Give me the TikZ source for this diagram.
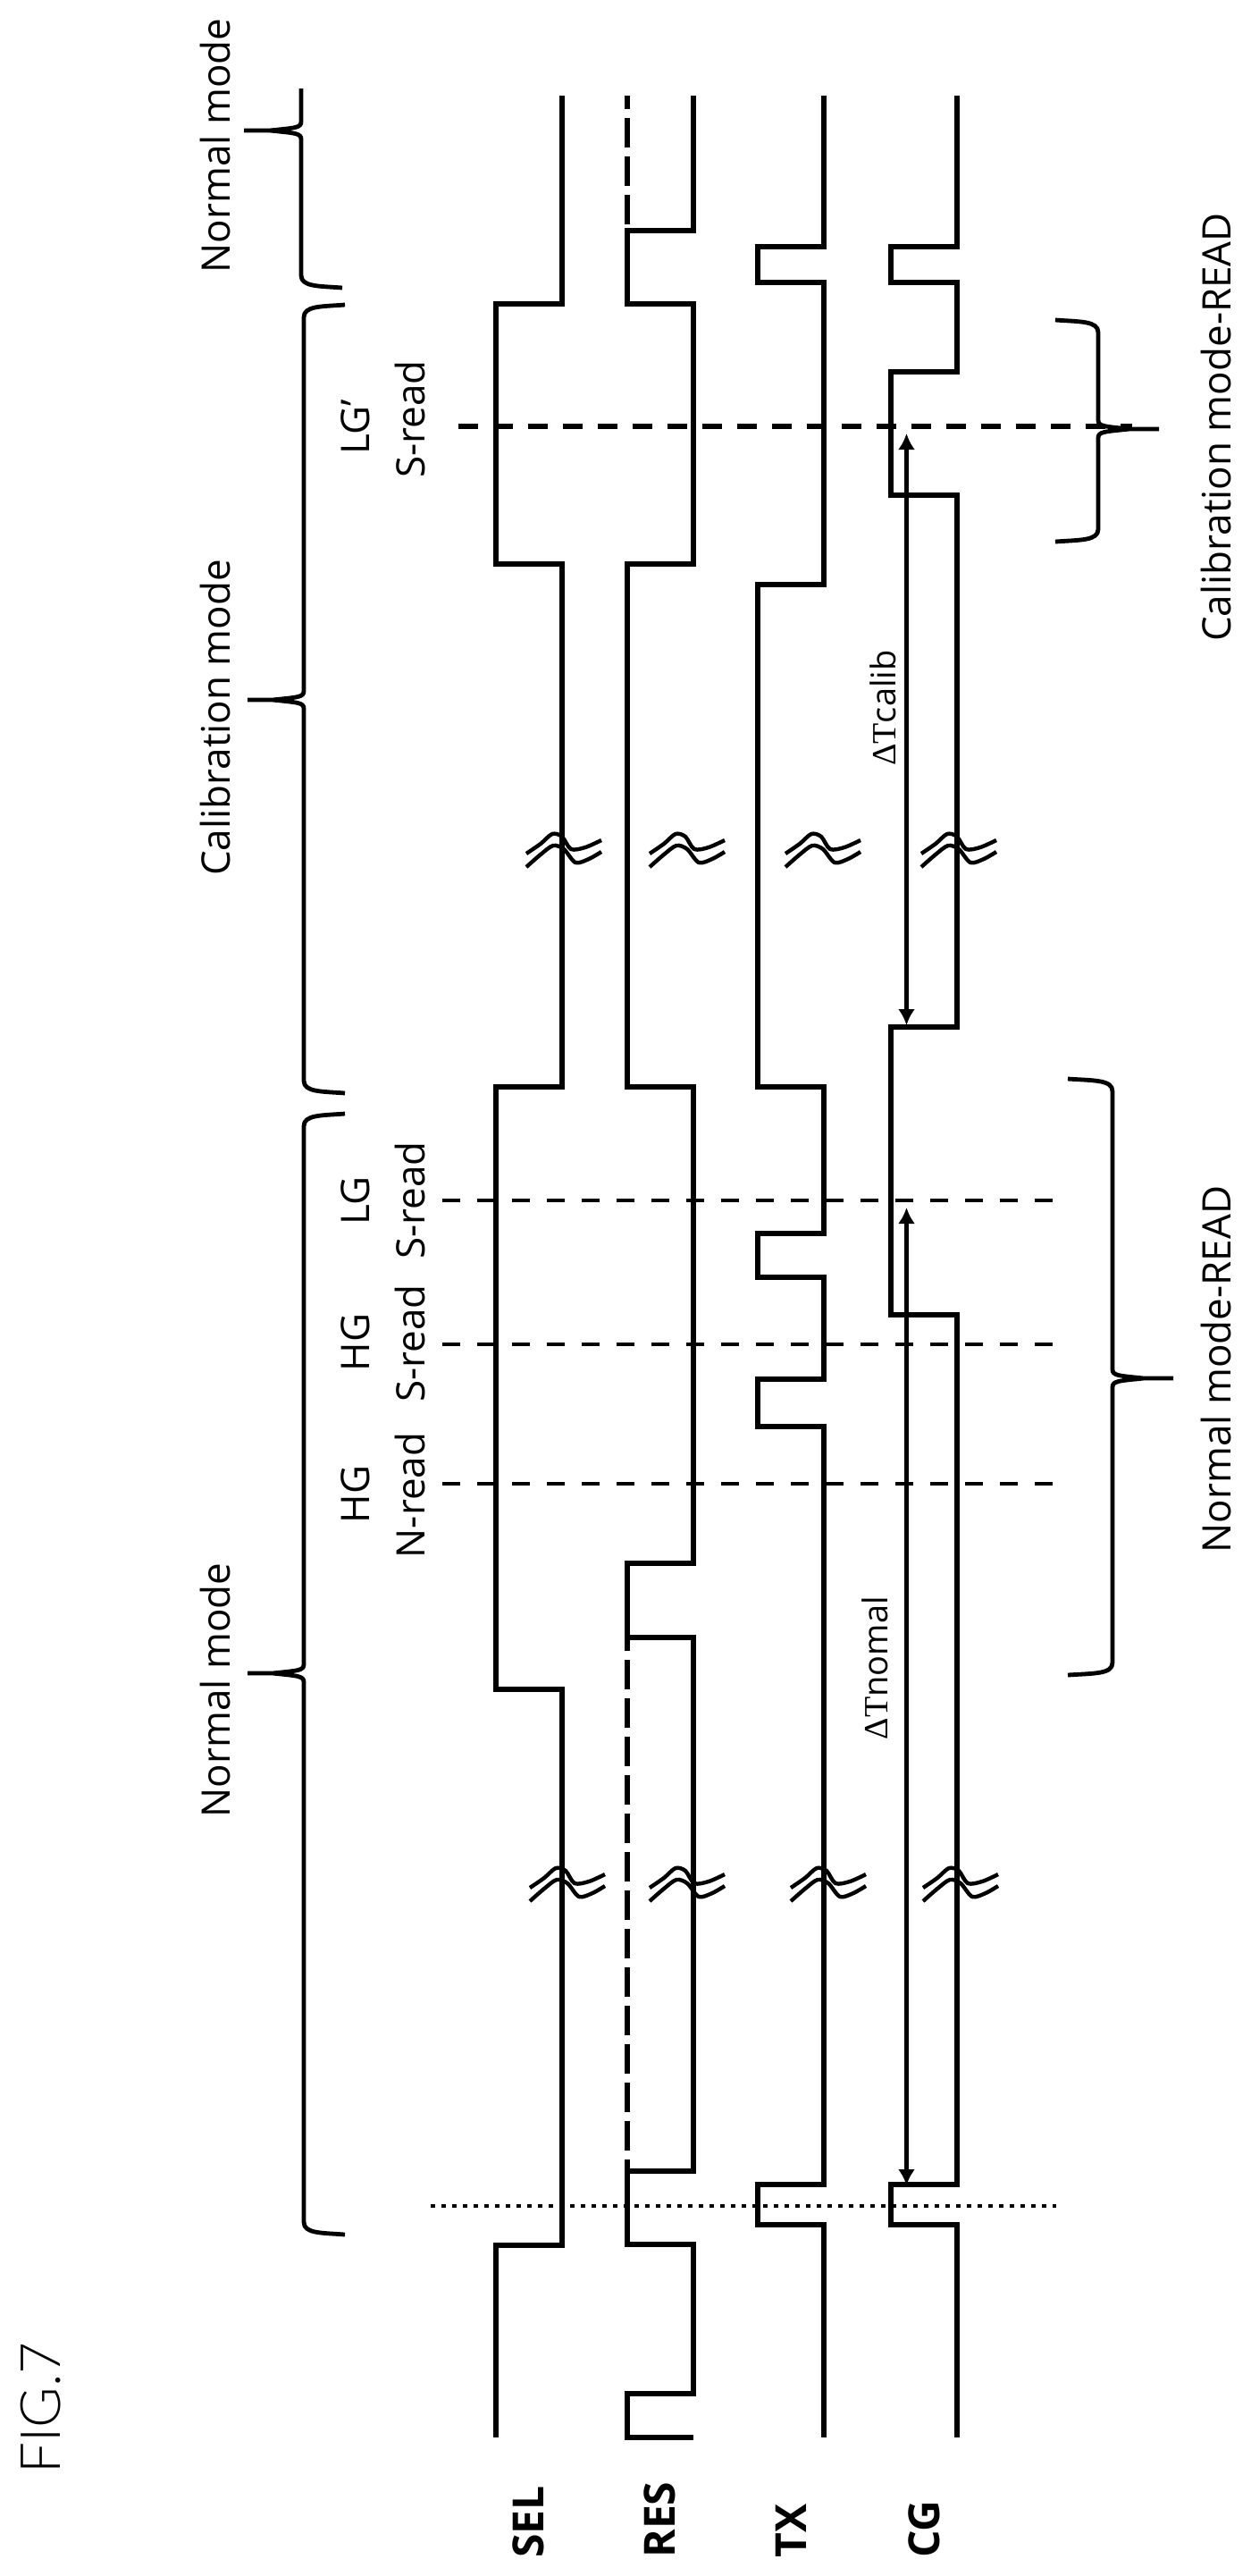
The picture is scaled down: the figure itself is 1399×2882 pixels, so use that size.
\documentclass[tikz,border=0pt]{standalone}
\usepackage{fontspec}
\setmainfont{Open Sans}
\newfontfamily\figfont{Lato Light}
\newfontfamily\deltafont{Liberation Serif}
\usetikzlibrary{arrows.meta}

% curly bracket: x, direction of the tip, y start, y tip, y end, tip length, end length
\newcommand{\modebrace}[7]{
\draw[bracket,shift={(#1,0)},xscale=#2] (-#7,#3) .. controls (-20,#3+2) and (0,#3+1) .. (0,#3+14) -- (0,#4-10) .. controls (0,#4-3) and (6,#4-3) .. (35,#4) -- (#6,#4) -- (35,#4) .. controls (6,#4+3) and (0,#4+3) .. (0,#4+10) -- (0,#5-14) .. controls (0,#5-1) and (-20,#5-2) .. (-#7,#5);
}

\begin{document}
\begin{tikzpicture}[x=0.5pt,y=-0.5pt]
\tikzset{signal/.style={line width=3.4pt},
resdash/.style={line width=3.4pt,dash pattern=on 16.5pt off 5pt,dash phase=9pt},
readline/.style={line width=2.4pt,dash pattern=on 10pt off 9.5pt},
calibline/.style={line width=2.8pt,dash pattern=on 11pt off 8.5pt},
startline/.style={line width=2pt,dash pattern=on 2.5pt off 3.5pt},
bracket/.style={line width=2.4pt,line join=bevel},
wave/.style={line width=2.2pt},
dimarrow/.style={line width=2.4pt,{Latex[length=9pt,width=9.5pt]}-{Latex[length=9pt,width=9.5pt]}},
modetext/.style={rotate=90,inner sep=0pt,text height=16pt,text depth=0pt,font=\fontsize{22}{26}\selectfont},
sigtext/.style={rotate=90,anchor=west,inner sep=0pt,font=\fontsize{24}{28}\selectfont\bfseries},
wavemark/.pic={
\draw[wave] plot[smooth] coordinates {(-36,5) (-20,-6) (-7,-17) (4,-14) (14,0) (30,-2) (48,-10)};
\draw[wave] plot[smooth] coordinates {(-36,20) (-20,6) (-6,-4) (6,0) (19,15) (34,11) (48,3)};
}}
\useasboundingbox (0,0) rectangle (1399,2882);

% signals
\draw[signal] (629,107) -- (629,340) -- (555,340) -- (555,631) -- (629,631) -- (629,1216) -- (555,1216) -- (555,1890) -- (629,1890) -- (629,2512) -- (555,2512) -- (555,2727);
\draw[signal] (776,107) -- (776,258) -- (702,258) -- (702,340) -- (776,340) -- (776,631) -- (702,631) -- (702,1216) -- (776,1216) -- (776,1749) -- (702,1749) -- (702,1832) -- (776,1832) -- (776,2429) -- (702,2429) -- (702,2511) -- (776,2511) -- (776,2678) -- (702,2678) -- (702,2727) -- (776,2727);
\draw[resdash] (702,107) -- (702,258);
\draw[resdash] (702,1832) -- (702,2429);
\draw[signal] (922,107) -- (922,276) -- (848,276) -- (848,316) -- (922,316) -- (922,654) -- (848,654) -- (848,1216) -- (922,1216) -- (922,1380) -- (848,1380) -- (848,1429) -- (922,1429) -- (922,1543) -- (848,1543) -- (848,1596) -- (922,1596) -- (922,2444) -- (848,2444) -- (848,2489) -- (922,2489) -- (922,2727);
\draw[signal] (1071,107) -- (1071,276) -- (997,276) -- (997,316) -- (1071,316) -- (1071,416) -- (997,416) -- (997,554) -- (1071,554) -- (1071,1149) -- (997,1149) -- (997,1471) -- (1071,1471) -- (1071,2444) -- (997,2444) -- (997,2489) -- (1071,2489) -- (1071,2727);

% breaks
\foreach \wx/\wy in {625/950,763/950,915/950,1067/950,629/2107,763/2107,921/2107,1069/2107}
\pic at (\wx,\wy) {wavemark};

% read lines
\draw[calibline] (513,477) -- (1267,477);
\draw[readline] (495,1343) -- (1187,1343);
\draw[readline] (495,1504) -- (1187,1504);
\draw[readline] (495,1660) -- (1187,1660);
\draw[startline] (482,2468) -- (1182,2468);

% brackets
\draw[bracket] (337,99) -- (337,136) .. controls (337,143) and (331,143) .. (302,146) -- (273,146) -- (302,146) .. controls (331,149) and (337,149) .. (337,156) -- (337,308) .. controls (337,321) and (357,320) .. (383,322);
\modebrace{340}{-1}{341}{783}{1223}{63}{46}
\modebrace{340}{-1}{1246}{1872}{2500}{63}{46}
\modebrace{1245}{1}{1207}{1542}{1874}{68}{50}
\modebrace{1229}{1}{358}{480}{606}{68}{48}

% time differences
\coordinate (calibtop) at (1014.5,485);
\coordinate (calibend) at (1014.5,1147);
\coordinate (normaltop) at (1014.5,1351);
\coordinate (normalend) at (1014.5,2445);
\draw[dimarrow] (calibtop) -- (calibend);
\draw[dimarrow] (normaltop) -- (normalend);

% texts
\node[modetext] (normalb) at (241,163) {Normal mode};
\node[modetext] (calib) at (241,803) {Calibration mode};
\node[modetext] (normala) at (241,1891) {Normal mode};
\node[modetext] (lgp) at (397,478) {LG'};
\node[modetext] (sreadc) at (459,469) {S-read};
\node[modetext] (lg) at (397,1343) {LG};
\node[modetext] (sreadl) at (459,1343) {S-read};
\node[modetext] (hgs) at (397,1502) {HG};
\node[modetext] (sreadh) at (459,1503) {S-read};
\node[modetext] (hgn) at (397,1672) {HG};
\node[modetext] (nread) at (459,1673) {N-read};
\node[modetext] (calibread) at (1361,478) {Calibration mode-READ};
\node[modetext] (normalread) at (1361,1532) {Normal mode-READ};
\node[modetext,font=\fontsize{19}{23}\selectfont] (dtcalib) at (986,792) {{\deltafont ΔT}calib};
\node[modetext,font=\fontsize{19}{23}\selectfont] (dtnormal) at (977,1866) {{\deltafont ΔT}nomal};
\node[sigtext] (sel) at (591,2862) {SEL};
\node[sigtext] (res) at (738,2862) {RES};
\node[sigtext] (tx) at (885,2862) {TX};
\node[sigtext] (cg) at (1034,2862) {CG};
\node[rotate=90,inner sep=0pt,text height=24pt,text depth=0pt,font=\fontsize{31}{38}\selectfont\figfont] (fig) at (43,2694) {FIG.7};
\end{tikzpicture}
\end{document}
